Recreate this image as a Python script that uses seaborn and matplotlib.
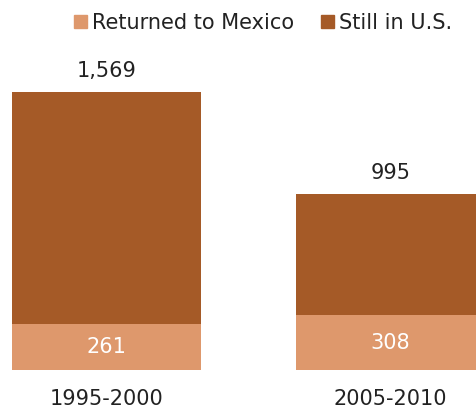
import matplotlib

matplotlib.use("Agg")
import matplotlib.pyplot as plt
import pandas as pd
import seaborn as sns

periods = ["1995-2000", "2005-2010"]
returned = [261, 308]
totals = [1569, 995]
still = [t - r for t, r in zip(totals, returned)]

DARK = "#A55A27"
LIGHT = "#DE986C"

df = pd.DataFrame({"period": periods, "returned": returned, "still": still, "total": totals})

sns.set_style("white")
plt.rcParams["font.family"] = ["DejaVu Sans"]

fig = plt.figure(figsize=(4.76, 4.08), dpi=100)
ax = fig.add_axes([0, 38 / 408, 1, 278 / 408])

# stacked: total in dark, returned drawn over its lower part
sns.barplot(data=df, x="period", y="total", color=DARK, width=0.6655,
            linewidth=0, saturation=1, ax=ax)
sns.barplot(data=df, x="period", y="returned", color=LIGHT, width=0.6655,
            linewidth=0, saturation=1, ax=ax)

for i, row in df.iterrows():
    ax.text(i, row["total"] + 118, f"{row['total']:,}", ha="center", va="center",
            fontsize=15, color="#222222", clip_on=False)
    ax.text(i, row["returned"] / 2, f"{row['returned']:,}", ha="center", va="center",
            fontsize=15, color="white")

ax.set_xlim(-0.375, 1.301)
ax.set_ylim(0, 1569)
ax.set_xlabel("")
ax.set_ylabel("")
ax.set_yticks([])
ax.tick_params(axis="x", length=0, pad=14, labelsize=15, labelcolor="#222222")
for spine in ax.spines.values():
    spine.set_visible(False)

handles = [plt.Rectangle((0, 0), 1, 1, color=LIGHT), plt.Rectangle((0, 0), 1, 1, color=DARK)]
fig.legend(handles, ["Returned to Mexico", "Still in U.S."], loc="center",
           bbox_to_anchor=(263 / 476, 1 - 23 / 408), ncol=2, frameon=False,
           fontsize=15, handlelength=0.6, handleheight=0.6, handletextpad=0.25,
           columnspacing=1.3, labelcolor="#222222")

fig.savefig("out.png", dpi=100)
